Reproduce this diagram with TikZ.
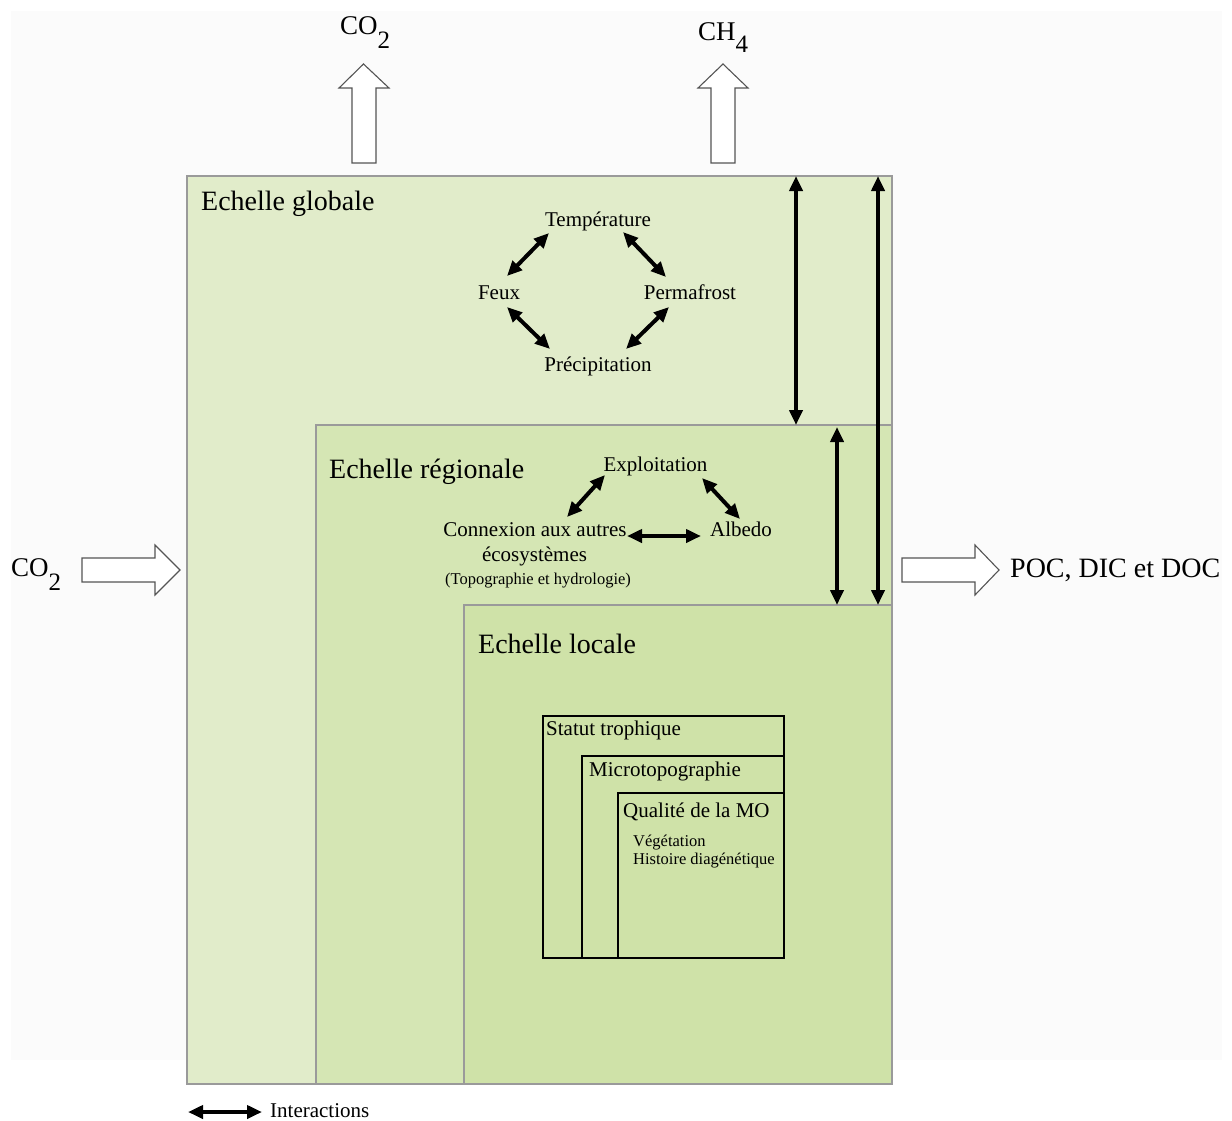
\documentclass[tikz,border=0pt]{standalone}
\usepackage{fontspec}
\setmainfont{Liberation Serif}
\usetikzlibrary{arrows.meta}
\definecolor{bgc}{HTML}{FBFBFB}
\definecolor{gfill}{HTML}{E1ECCA}
\definecolor{rfill}{HTML}{D5E6B4}
\definecolor{lfill}{HTML}{CFE2A8}
\definecolor{bord}{HTML}{9A9A9A}
\definecolor{barrow}{HTML}{555555}
\newcommand{\fs}[1]{\fontsize{#1}{#1}\selectfont}
\tikzset{
  scalebox/.style={draw=bord, line width=1.2pt, inner sep=0pt, outer sep=0pt, anchor=north west},
  innerbox/.style={draw=black, line width=1.1pt, inner sep=0pt, outer sep=0pt, anchor=north west},
  ia/.style={line width=4pt, {Triangle[length=15pt,width=13pt]}-{Triangle[length=15pt,width=13pt]}},
  blockarrow/.style={draw=barrow, fill=white, line width=1.1pt, line join=miter},
  lbl/.style={inner sep=0pt, anchor=base west},
  clbl/.style={inner sep=0pt, anchor=base},
}
\begin{document}
\begin{tikzpicture}[x=1pt,y=-1pt]
\useasboundingbox (0,0) rectangle (1232,1120);
\fill[bgc] (11,11) rectangle (1222,1060);

% scale boxes
\node[scalebox, fill=gfill, minimum width=705pt, minimum height=908pt] (glob) at (187,176) {};
\node[scalebox, fill=rfill, minimum width=576pt, minimum height=659pt] (reg) at (316,425) {};
\node[scalebox, fill=lfill, minimum width=428pt, minimum height=479pt] (loc) at (464,605) {};

\node[lbl] (tglob) at (201,210) {\fs{28}Echelle globale};
\node[lbl] (treg) at (329,478) {\fs{28}Echelle régionale};
\node[lbl] (tloc) at (478,653) {\fs{28}Echelle locale};

% inner boxes
\node[innerbox, minimum width=241pt, minimum height=242pt] (stat) at (543,716) {};
\node[innerbox, minimum width=202pt, minimum height=202pt] (micro) at (582,756) {};
\node[innerbox, minimum width=166pt, minimum height=165pt] (qual) at (618,793) {};
\node[lbl] (tstat) at (546,735) {\fs{21}Statut trophique};
\node[lbl] (tmicro) at (589,776) {\fs{21}Microtopographie};
\node[lbl] (tqual) at (623,817) {\fs{21}Qualité de la MO};
\node[lbl] (tveg) at (633,846) {\fs{16.5}Végétation};
\node[lbl] (thist) at (633,864) {\fs{16.5}Histoire diagénétique};

% global diamond
\node[clbl] (temp) at (598,226) {\fs{21}Température};
\node[clbl] (feux) at (499,299) {\fs{21}Feux};
\node[clbl] (perm) at (690,299) {\fs{21}Permafrost};
\node[clbl] (prec) at (598,371) {\fs{21}Précipitation};
\coordinate (tpF) at (549,233); \coordinate (fpT) at (507,276);
\coordinate (tpP) at (623,232); \coordinate (ppT) at (666,277);
\coordinate (fpR) at (507,307); \coordinate (rpF) at (550,349);
\coordinate (ppR) at (669,307); \coordinate (rpP) at (626,349);
\draw[ia] (tpF) -- (fpT);
\draw[ia] (tpP) -- (ppT);
\draw[ia] (fpR) -- (rpF);
\draw[ia] (ppR) -- (rpP);

% regional triangle
\node[clbl] (expl) at (655.5,471) {\fs{21}Exploitation};
\node[clbl] (conn) at (535,536) {\fs{21}Connexion aux autres};
\node[clbl] (ecos) at (534.5,561) {\fs{21}écosystèmes};
\node[clbl] (topo) at (538,584) {\fs{16.5}(Topographie et hydrologie)};
\node[clbl] (albe) at (741,536) {\fs{21}Albedo};
\coordinate (epC) at (605,475); \coordinate (cpE) at (567,517);
\coordinate (epA) at (702,478); \coordinate (apE) at (740,519);
\coordinate (cpA) at (627,536); \coordinate (apC) at (701,536);
\draw[ia] (epC) -- (cpE);
\draw[ia] (epA) -- (apE);
\draw[ia] (cpA) -- (apC);

% vertical interactions
\coordinate (v1) at (796,0);
\coordinate (v2) at (837,0);
\coordinate (v3) at (878,0);
\draw[ia] (v1 |- glob.north) -- (v1 |- reg.north);
\draw[ia] ([yshift=-2pt]v2 |- reg.north) -- (v2 |- loc.north);
\draw[ia] (v3 |- glob.north) -- (v3 |- loc.north);

% block arrows
\draw[blockarrow] (352,163) -- (352,88) -- (339,88) -- (363.5,64) -- (389,88) -- (376,88) -- (376,163) -- cycle;
\draw[blockarrow] (711,163) -- (711,88) -- (698,88) -- (723,64) -- (748,88) -- (735,88) -- (735,163) -- cycle;
\draw[blockarrow] (82,558) -- (155,558) -- (155,545) -- (180,570) -- (155,595) -- (155,582) -- (82,582) -- cycle;
\draw[blockarrow] (902,558) -- (975,558) -- (975,545) -- (999,570) -- (975,595) -- (975,582) -- (902,582) -- cycle;

% gas labels
\node[lbl] (co2top) at (340,34) {\fs{27}CO\raisebox{-14pt}{\fs{25}2}};
\node[lbl] (ch4) at (698,40) {\fs{27}CH\raisebox{-12pt}{\fs{25}4}};
\node[lbl] (co2left) at (11,576) {\fs{27}CO\raisebox{-14pt}{\fs{25}2}};
\node[lbl] (poc) at (1010,577) {\fs{28}POC, DIC et DOC};

% legend
\coordinate (lgA) at (188,1112);
\coordinate (lgB) at (262,1112);
\draw[ia] (lgA) -- (lgB);
\node[lbl] (tleg) at (270,1117) {\fs{21}Interactions};
\end{tikzpicture}
\end{document}
